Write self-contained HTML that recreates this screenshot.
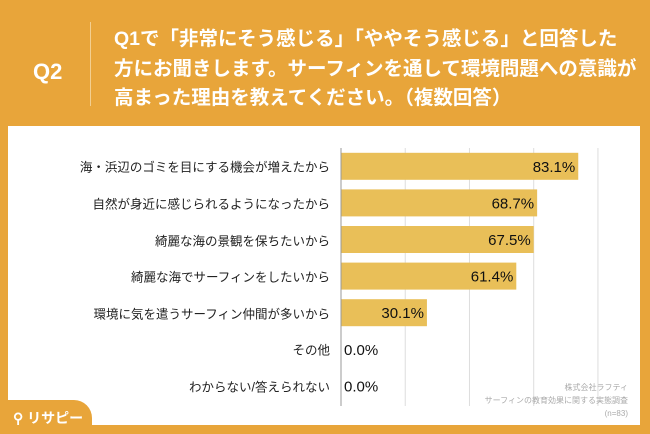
<!DOCTYPE html>
<html><head><meta charset="utf-8"><style>
body{margin:0;width:650px;height:434px;overflow:hidden;background:#E8A53A;font-family:"Liberation Sans","Noto Sans CJK JP",sans-serif;position:relative}
.abs{position:absolute}
#panel{left:8px;top:126px;width:632px;height:299px;background:#fff}
.lbl{position:absolute;right:320px;font-size:12.5px;color:#222;white-space:nowrap;transform:translateY(-50%)}
</style></head><body>
<div class="abs" style="left:33px;top:59px;font-size:22px;font-weight:bold;color:#fff">Q2</div>
<div class="abs" style="left:90px;top:22px;width:1px;height:84px;background:#f3cf90"></div>
<div class="abs" style="left:114px;top:25px;font-size:19.5px;line-height:29.5px;font-weight:bold;color:#fff;white-space:nowrap">Q1で「非常にそう感じる」「ややそう感じる」と回答した<br>方にお聞きします。サーフィンを通して環境問題への意識が<br>高まった理由を教えてください。（複数回答）</div>
<div id="panel" class="abs"></div>
<svg class="abs" style="left:0;top:0" width="650" height="434" id="chart"></svg>
<div id="labels"></div>
<div class="abs" style="right:22px;top:381px;text-align:right;font-size:8px;line-height:13px;color:#aaa">株式会社ラフティ<br>サーフィンの教育効果に関する実態調査<br>(n=83)</div>
<div class="abs" style="left:0;top:400px;width:92px;height:34px;background:#E8A53A;border-top-right-radius:18px"></div>
<div class="abs" style="left:13px;top:408px;font-size:14px;font-weight:bold;color:#fff">⚲ リサピー</div>
<script>
const categories=["海・浜辺のゴミを目にする機会が増えたから","自然が身近に感じられるようになったから","綺麗な海の景観を保ちたいから","綺麗な海でサーフィンをしたいから","環境に気を遣うサーフィン仲間が多いから","その他","わからない/答えられない"];
const values=[83.1,68.7,67.5,61.4,30.1,0.0,0.0];
const gridTicks=[22.5,45,67.5,90];
const x0=341,pxPer=2.855,rowTop=148,rowH=36.6,barH=27;
const xs=v=>x0+v*pxPer, yc=i=>rowTop+rowH*i+rowH/2;
const svg=document.getElementById('chart');const NS="http://www.w3.org/2000/svg";
function mk(t,a){const e=document.createElementNS(NS,t);for(const k in a)e.setAttribute(k,a[k]);svg.appendChild(e);return e;}
gridTicks.forEach(t=>{const l=mk('line',{x1:xs(t),x2:xs(t),y1:148,y2:406,stroke:'#ddd','stroke-width':1});

});
values.forEach((v,i)=>{
 const r=mk('rect',{x:x0,y:yc(i)-barH/2,width:v*pxPer,height:barH,fill:'#E9BF58'});
 
 
 const t=mk('text',{x:v>5?xs(v)-3:x0+3,y:yc(i)+5.5,'text-anchor':v>5?'end':'start','font-size':15,fill:'#111','font-family':'Liberation Sans, sans-serif'});
 t.textContent=v.toFixed(1)+'%';
 
 
 const d=document.createElement('div');d.className='lbl';d.style.top=yc(i)+'px';d.textContent=categories[i];
 
 
 document.getElementById('labels').appendChild(d);
});
const ax=mk('line',{x1:x0,x2:x0,y1:148,y2:406,stroke:'#999','stroke-width':1});


</script>
</body></html>
